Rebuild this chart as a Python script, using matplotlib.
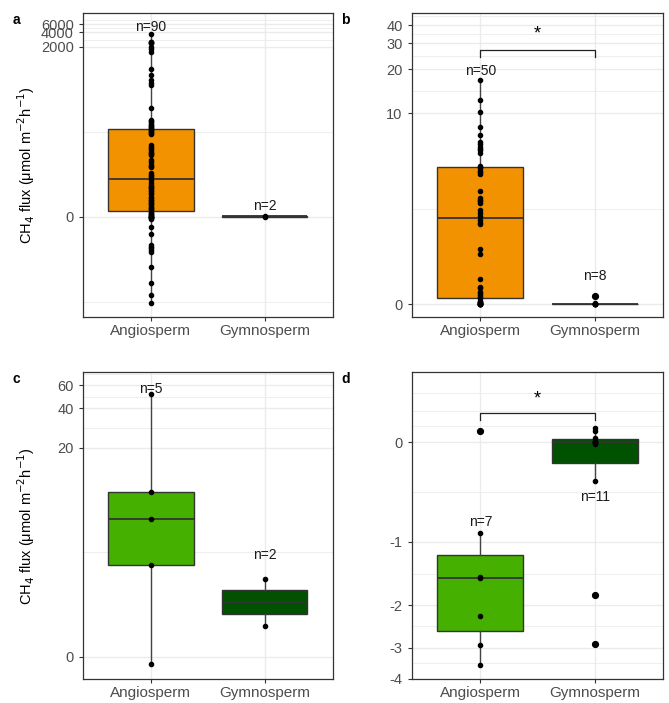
import numpy as np
import matplotlib
matplotlib.use('Agg')
import matplotlib.pyplot as plt
from matplotlib import cbook
from matplotlib.ticker import FixedLocator

plt.rcParams['font.family'] = ['Liberation Sans', 'DejaVu Sans']

# 1. Data (CH4 flux, umol m-2 h-1)
groups = ['Angiosperm', 'Gymnosperm']

a_angio = [3800, 2550, 2500, 2400, 2360, 1990, 1750, 1570, 670, 500, 393, 345, 307, 98,
           56, 54, 51, 47, 43, 41, 40, 37, 36,
           34, 32, 31, 29, 28, 16.5, 15.1, 14.5, 12.9, 11.9, 11.0, 10.5, 10.1, 7.9, 7.0,
           6.2, 6.0, 5.7, 4.24, 3.75, 3.6, 3.17,
           2.91, 2.53, 2.23, 2.04, 2.0, 1.87, 1.70, 1.65, 1.40, 1.35, 1.14, 1.02, 0.905,
           0.88, 0.80, 0.70, 0.68, 0.60, 0.51, 0.42, 0.40, 0.33,
           0.24, 0.16, 0.15, 0.08, 0.07, 0, 0, 0, 0, 0, -0.08, -0.1, -0.51, -0.95,
           -1.87, -2.04, -2.23, -2.45, -2.67, -5.7, -12.9, -22.8, -34]
a_gymno = [0.0, 0.02]

b_angio = [16.8, 12.4, 10.2, 8.03, 7.07, 6.37, 6.1, 5.87, 5.63, 5.57, 5.34, 4.34, 4.27,
           4.16, 4.0, 3.93, 3.78, 2.88, 2.53, 2.46, 2.42, 2.36, 2.08, 1.96, 1.87,
           1.74, 1.66, 1.62, 0.97, 0.88, 0.41, 0.265, 0.25, 0.195, 0.17, 0.14, 0.115, 0.089,
           0.047, 0.037, 0.026, 0.021, 0.01, 0.005, 0, 0, 0, 0, 0, 0]
b_gymno = [0.12, 0.01, 0.005, 0, 0, 0, 0, 0]

c_angio = [51.5, 9.07, 5.63, 2.42, -0.136]
c_gymno = [1.86, 0.567]

d_angio = [0.1, -0.888, -1.52, -1.5, -2.23, -2.92, -3.53]
d_gymno = [-2.9, -1.8, -0.347, -0.015, -0.005, 0, 0.003, 0.012, 0.041, 0.104, 0.125]

# y breaks per panel
a_ticks = [0, 2000, 4000, 6000]
b_ticks = [0, 10, 20, 30, 40]
c_ticks = [0, 20, 40, 60]
d_ticks = [-4, -3, -2, -1, 0]

# n labels (value where the label sits)
a_nlab = [5300, 0.56]
b_nlab = [19.4, 0.45]
c_nlab = [56, 2.92]
d_nlab = [-0.766, -0.5]

orange = '#F39200'
green = '#45B000'
dkgreen = '#005200'


def minor_breaks(ticks):
    # midpoints in transformed space, one extra on each side (like ggplot)
    t = np.arcsinh(np.array(ticks, dtype=float))
    d = np.diff(t)
    t = np.concatenate([[t[0] - d[0]], t, [t[-1] + d[-1]]])
    return list(np.sinh((t[:-1] + t[1:]) / 2))


def draw_panel(ax, data, colors, ticks, ylim, nlab, letter, extra_minor=()):
    ax.set_yscale('function', functions=(np.arcsinh, np.sinh))
    ax.set_xlim(0.4, 2.6)
    ax.set_ylim(*ylim)
    ax.set_axisbelow(True)

    # box stats computed in transformed space, then back to data units
    stats = []
    for vals in data:
        s = cbook.boxplot_stats(np.arcsinh(np.array(vals, dtype=float)), whis=1.5)[0]
        for k in ['med', 'q1', 'q3', 'whislo', 'whishi', 'mean']:
            s[k] = np.sinh(s[k])
        s['fliers'] = np.sinh(s['fliers'])
        stats.append(s)
    bp = ax.bxp(stats, positions=[1, 2], widths=0.75, patch_artist=True,
                showcaps=False, showfliers=True, manage_ticks=False, zorder=2,
                boxprops=dict(edgecolor='#333333', linewidth=1.0),
                medianprops=dict(color='#333333', linewidth=1.3),
                whiskerprops=dict(color='#444444', linewidth=1.0),
                flierprops=dict(marker='o', markerfacecolor='black',
                                markeredgecolor='black', markersize=4.2))
    for patch, c in zip(bp['boxes'], colors):
        patch.set_facecolor(c)

    for i, vals in enumerate(data):
        ax.plot([i + 1] * len(vals), vals, 'o', color='black', ms=3.0, zorder=3)
        ax.text(i + 1, nlab[i], 'n=%d' % len(vals), ha='center', va='center',
                fontsize=10, color='#1A1A1A', zorder=4)

    ax.set_xticks([1, 2])
    ax.set_xticklabels(groups)
    ax.set_yticks(ticks)
    ax.set_yticklabels([str(t) for t in ticks])
    ax.yaxis.set_minor_locator(FixedLocator(minor_breaks(ticks) + list(extra_minor)))
    ax.tick_params(axis='both', which='major', length=3, width=0.8, color='#333333',
                   labelcolor='#4D4D4D', labelsize=10.5)
    ax.tick_params(axis='x', labelsize=11, pad=2)
    ax.tick_params(which='minor', length=0)
    ax.grid(True, which='major', color='#EBEBEB', linewidth=1.0)
    ax.grid(True, which='minor', axis='y', color='#EBEBEB', linewidth=0.6)
    for sp in ax.spines.values():
        sp.set_color('#333333')
        sp.set_linewidth(0.9)
    ax.text(-0.28, 1.0, letter, transform=ax.transAxes, fontsize=10, fontweight='bold',
            va='top', ha='left')


def bracket(ax, y_top, y_bottom, y_star):
    ax.plot([1, 1, 2, 2], [y_bottom, y_top, y_top, y_bottom], color='#222222',
            linewidth=0.9, zorder=4)
    ax.text(1.5, y_star, '*', ha='center', va='center', fontsize=13, zorder=4)


# 2. Figure and panels
fig = plt.figure(figsize=(6.69, 7.03), dpi=100)
ax_a = fig.add_axes([0.1236, 0.5495, 0.3741, 0.4324])
ax_b = fig.add_axes([0.6154, 0.5495, 0.3760, 0.4324])
ax_c = fig.add_axes([0.1236, 0.0337, 0.3741, 0.4367])
ax_d = fig.add_axes([0.6154, 0.0337, 0.3760, 0.4367])

draw_panel(ax_a, [a_angio, a_gymno], [orange, orange], a_ticks, (-65.8, 10476), a_nlab, 'a')
draw_panel(ax_b, [b_angio, b_gymno], [orange, orange], b_ticks, (-0.2, 48.6), b_nlab, 'b')
draw_panel(ax_c, [c_angio, c_gymno], [green, dkgreen], c_ticks, (-0.41, 75.6), c_nlab, 'c')
draw_panel(ax_d, [d_angio, d_gymno], [green, dkgreen], d_ticks, (-4.02, 0.663), d_nlab, 'd',
           extra_minor=[0.151, 0.285])

bracket(ax_b, 27, 24.3, 35)
bracket(ax_d, 0.261, 0.2, 0.4)

ylab = 'CH$_4$ flux (\u03bcmol m$^{-2}$h$^{-1}$)'
for ax in (ax_a, ax_c):
    ax.set_ylabel(ylab, fontsize=10.5)
    ax.yaxis.set_label_coords(-0.183, 0.5)

fig.savefig('out.png', dpi=100)
